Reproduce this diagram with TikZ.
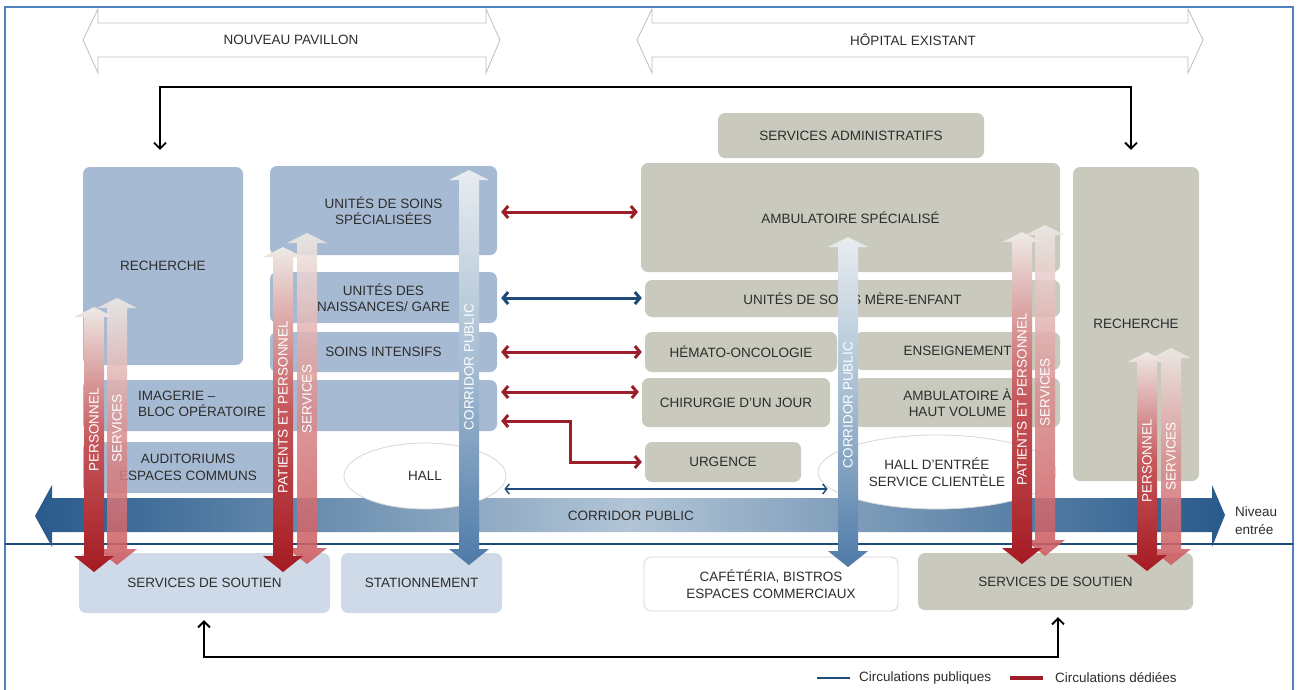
\documentclass[tikz,border=0pt]{standalone}
\usepackage{fontspec}
\setmainfont{Liberation Sans}
\usetikzlibrary{arrows.meta,shapes.geometric}
\definecolor{frameC}{RGB}{79,129,189}
\definecolor{boxB}{RGB}{166,186,211}
\definecolor{boxPB}{RGB}{206,218,232}
\definecolor{boxG}{RGB}{201,201,189}
\definecolor{txt}{RGB}{45,45,45}
\definecolor{redC}{RGB}{155,30,40}
\definecolor{blueC}{RGB}{30,75,120}
\definecolor{outlC}{RGB}{190,190,190}
\definecolor{aTop}{RGB}{238,234,230}
\definecolor{aMid}{RGB}{198,88,92}
\definecolor{aRed}{RGB}{165,26,34}
\definecolor{sMid}{RGB}{218,145,146}
\definecolor{sRed}{RGB}{205,90,95}
\definecolor{cTop}{RGB}{232,236,240}
\definecolor{cMid}{RGB}{165,188,210}
\definecolor{cBot}{RGB}{78,122,168}
\definecolor{hDark}{RGB}{40,90,140}
\definecolor{hLight}{RGB}{178,197,214}
\definecolor{ellC}{RGB}{215,215,215}
\newcommand\fs{\fontsize{13.5}{16.5}\selectfont}
\newcommand\vArr[4]{%
  \path[#1] (#2,#3) -- (#2+20,#3+10) -- (#2+10,#3+10) -- (#2+10,#4-16) -- (#2+20,#4-16) -- (#2,#4) -- (#2-20,#4-16) -- (#2-10,#4-16) -- (#2-10,#3+10) -- (#2-20,#3+10) -- cycle;}
\begin{document}
\begin{tikzpicture}[x=1pt,y=-1pt,
  boxb/.style={rectangle, rounded corners=7pt, fill=boxB, text=txt, align=center, inner sep=0pt, font=\fs},
  boxp/.style={boxb, fill=boxPB},
  boxg/.style={boxb, fill=boxG},
  boxw/.style={boxb, fill=white, draw=ellC, line width=0.8pt},
  ell/.style={ellipse, fill=white, draw=ellC, line width=0.8pt, text=txt, align=center, inner sep=0pt, font=\fs},
  lbl/.style={text=txt, align=center, inner sep=0pt, font=\fs},
  vlbl/.style={text=white, rotate=90, inner sep=0pt, font=\fs},
  outl/.style={draw=outlC, line width=0.8pt, fill=white},
  blk/.style={draw=black, line width=1.8pt, {Straight Barb[length=6pt,width=12pt]}-{Straight Barb[length=6pt,width=12pt]}},
  redc/.style={draw=redC, line width=3pt, {Straight Barb[length=5pt,width=12pt]}-{Straight Barb[length=5pt,width=12pt]}, shorten <=4pt, shorten >=3pt},
  bluec/.style={redc, draw=blueC},
  bluet/.style={draw=blueC, line width=1.4pt, {Straight Barb[length=4pt,width=10pt]}-{Straight Barb[length=4pt,width=10pt]}},
  redArr/.style={top color=aTop, bottom color=aRed, middle color=aMid},
  srvArr/.style={top color=aTop, bottom color=sRed, middle color=sMid, opacity=0.88},
  corArr/.style={top color=cTop, bottom color=cBot, middle color=cMid}
]
\useasboundingbox (0,0) rectangle (1299,689);
\fill[white] (0,0) rectangle (1299,689);
\draw[frameC, line width=2pt] (5,7) rectangle (1293,720);

% header arrows
\draw[outl] (83,40) -- (98,9) -- (98,23) -- (486,23) -- (486,9) -- (500,40) -- (486,73) -- (486,57) -- (98,57) -- (98,73) -- cycle;
\node[lbl] (tNP) at (291,40) {NOUVEAU PAVILLON};
\draw[outl] (637,40) -- (652,9) -- (652,23) -- (1188,23) -- (1188,9) -- (1203,40) -- (1188,73) -- (1188,57) -- (652,57) -- (652,73) -- cycle;
\node[lbl] (tHE) at (913,40) {HÔPITAL EXISTANT};

% left blocks
\node[boxb, minimum width=160pt, minimum height=198pt] (rechL) at (163,266) {RECHERCHE};
\node[boxb, minimum width=227pt, minimum height=89pt] (uss) at (383.5,210.5) {UNITÉS DE SOINS\\SPÉCIALISÉES};
\node[boxb, minimum width=227pt, minimum height=51pt] (nais) at (383.5,297.5) {UNITÉS DES\\NAISSANCES/ GARE};
\node[boxb, minimum width=227pt, minimum height=40pt] (sint) at (383.5,352) {SOINS INTENSIFS};
\node[boxb, minimum width=414pt, minimum height=51pt] (img) at (290,405.5) {};
\node[lbl, anchor=west, align=left] (imgt) at (138,404) {IMAGERIE –\\BLOC OPÉRATOIRE};
\node[boxb, minimum width=210pt, minimum height=51pt] (aud) at (188,467.5) {AUDITORIUMS\\ESPACES COMMUNS};
\node[boxp, minimum width=251pt, minimum height=60pt] (sdsL) at (204.5,583) {SERVICES DE SOUTIEN};
\node[boxp, minimum width=161pt, minimum height=60pt] (stat) at (421.5,583) {STATIONNEMENT};

% right blocks
\node[boxg, minimum width=266pt, minimum height=45pt] (adm) at (851,135.5) {SERVICES ADMINISTRATIFS};
\node[boxg, minimum width=419pt, minimum height=109pt] (amb) at (850.5,217.5) {AMBULATOIRE SPÉCIALISÉ};
\node[boxg, minimum width=415pt, minimum height=37pt] (mere) at (852.5,298.5) {UNITÉS DE SOINS MÈRE-ENFANT};
\node[boxg, minimum width=192pt, minimum height=40pt] (hem) at (741,352) {HÉMATO-ONCOLOGIE};
\node[boxg, minimum width=205pt, minimum height=38pt] (ens) at (957.5,351) {ENSEIGNEMENT};
\node[boxg, minimum width=188pt, minimum height=49pt] (chir) at (736,402.5) {CHIRURGIE D'UN JOUR};
\node[boxg, minimum width=205pt, minimum height=49pt] (avol) at (957.5,402.5) {AMBULATOIRE À\\HAUT VOLUME};
\node[boxg, minimum width=156pt, minimum height=40pt] (urg) at (723,462) {URGENCE};
\node[boxg, minimum width=126pt, minimum height=314pt] (rechR) at (1136,324) {RECHERCHE};
\node[boxw, minimum width=254pt, minimum height=54pt] (caf) at (771,584) {CAFÉTÉRIA, BISTROS\\ESPACES COMMERCIAUX};
\node[boxg, minimum width=275pt, minimum height=57pt] (sdsR) at (1055.5,581.5) {SERVICES DE SOUTIEN};

% black links
\coordinate (tl) at (160,87);
\coordinate (tr) at (1131,87);
\draw[blk, shorten <=17pt, shorten >=17pt] (rechL.north -| tl) -- (tl) -- (tr) -- (rechR.north -| tr);
\coordinate (bl) at (204,657);
\coordinate (br) at (1058,657);
\draw[blk, shorten <=7pt, shorten >=7pt] (sdsL.south -| bl) -- (bl) -- (br) -- (sdsR.south -| br);

% level line and public corridor
\draw[blueC, line width=2pt] (5,544) -- (1293,544);
\path[left color=hDark, right color=hDark, middle color=hLight] (35,516) -- (52,485) -- (52,498) -- (1212,498) -- (1212,485) -- (1225,515) -- (1212,547) -- (1212,532) -- (52,532) -- (52,547) -- cycle;
\node[lbl] (corH) at (631,516) {CORRIDOR PUBLIC};
\node[lbl, anchor=west, align=left, font=\fontsize{13.5}{18}\selectfont] (niv) at (1235,521) {Niveau\\entrée};

% halls
\node[ell, minimum width=162pt, minimum height=66pt] (hall) at (425,476) {HALL};
\node[ell, minimum width=238pt, minimum height=74pt] (halle) at (937,472) {HALL D'ENTRÉE\\SERVICE CLIENTÈLE};

% dedicated / public links
\draw[redc] (uss.east |- 0,212) -- (amb.west |- 0,212);
\draw[bluec] (nais.east |- 0,298) -- (mere.west |- 0,298);
\draw[redc] (sint.east |- 0,352) -- (hem.west |- 0,352);
\draw[redc] (img.east |- 0,392) -- (chir.west |- 0,392);
\coordinate (elb) at (570,421);
\draw[redc] (img.east |- elb) -- (elb) -- (elb |- urg.west) -- (urg.west);
\draw[bluet, shorten <=-2pt, shorten >=-10pt] (hall.east |- 0,489) -- (halle.west |- 0,489);

% vertical circulations
\vArr{srvArr}{117}{298}{565}
\vArr{redArr}{94}{307}{572}
\vArr{srvArr}{307}{233}{564}
\vArr{redArr}{283}{247}{572}
\vArr{corArr}{469}{170}{565}
\vArr{corArr}{848}{237}{567}
\vArr{srvArr}{1045}{225}{556}
\vArr{redArr}{1022}{232}{564}
\vArr{srvArr}{1171}{348}{565}
\vArr{redArr}{1147}{352}{571}
\node[vlbl] (l1) at (94,430) {PERSONNEL};
\node[vlbl] (l2) at (117,428) {SERVICES};
\node[vlbl] (l3) at (283,407) {PATIENTS ET PERSONNEL};
\node[vlbl] (l4) at (307,399) {SERVICES};
\node[vlbl] (l5) at (469,367) {CORRIDOR PUBLIC};
\node[vlbl] (l6) at (848,405) {CORRIDOR PUBLIC};
\node[vlbl] (l7) at (1022,399) {PATIENTS ET PERSONNEL};
\node[vlbl] (l8) at (1045,392) {SERVICES};
\node[vlbl] (l9) at (1147,461) {PERSONNEL};
\node[vlbl] (l10) at (1171,456) {SERVICES};

% legend
\draw[blueC, line width=2.5pt] (817,678) -- (850,678);
\node[lbl, anchor=west] (lg1) at (859,678) {Circulations publiques};
\draw[redC, line width=4pt] (1010,678) -- (1043,678);
\node[lbl, anchor=west] (lg2) at (1055,678) {Circulations dédiées};
\end{tikzpicture}
\end{document}
